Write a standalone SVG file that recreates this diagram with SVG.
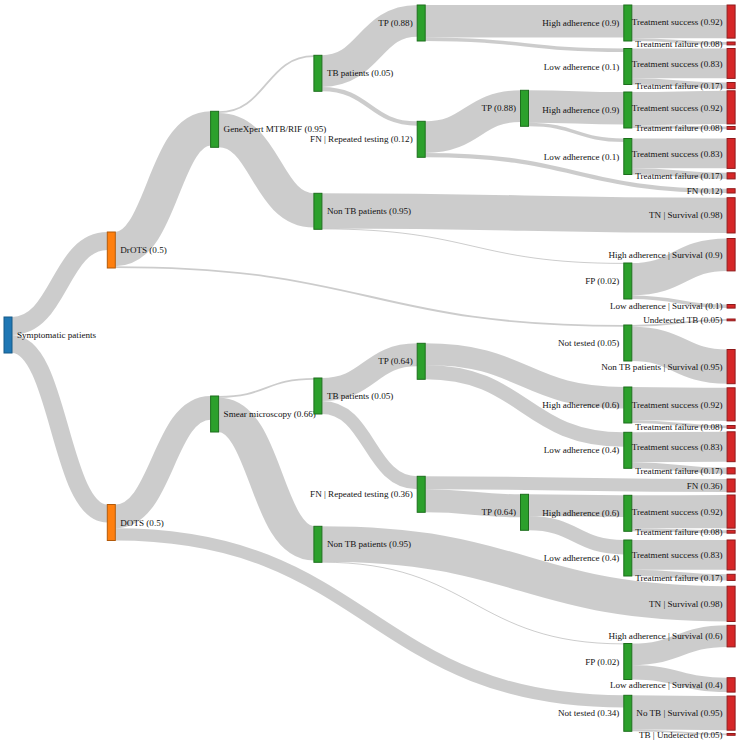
<svg xmlns="http://www.w3.org/2000/svg" width="740" height="741" viewBox="0 0 740 741">
<style>
.links path{fill:none;stroke:#000;stroke-opacity:0.2}
.node rect{stroke-width:1}
.b rect{fill:#1f77b4;stroke:#175a88}
.o rect{fill:#ff7f0e;stroke:#b25a0a}
.g rect{fill:#2ca02c;stroke:#1d6f1d}
.r rect{fill:#d62728;stroke:#8f1a1b}
text{font-family:"Liberation Serif","Times New Roman",serif;font-size:9.1px;fill:#111}
.e{text-anchor:end}
</style>
<rect width="740" height="741" fill="#fff"/>
<g class="links">
<path d="M12,326 C59.65,326 59.65,241 107.3,241" stroke-width="18"/>
<path d="M12,344 C59.65,344 59.65,513.5 107.3,513.5" stroke-width="18"/>
<path d="M115.3,249.1 C162.95,249.1 162.95,128.4 210.6,128.4" stroke-width="34.2"/>
<path d="M115.3,267.1 C369.55,267.1 369.55,325.9 623.8,325.9" stroke-width="1.8"/>
<path d="M115.3,516.4 C162.95,516.4 162.95,407.9 210.6,407.9" stroke-width="23.76"/>
<path d="M115.3,534.4 C369.55,534.4 369.55,701.4 623.8,701.4" stroke-width="12.24"/>
<path d="M218.6,112.2 C266.25,112.2 266.25,56.2 313.9,56.2" stroke-width="1.8"/>
<path d="M218.6,130.2 C266.25,130.2 266.25,210.4 313.9,210.4" stroke-width="34.2"/>
<path d="M218.6,396.9 C266.25,396.9 266.25,378.9 313.9,378.9" stroke-width="1.8"/>
<path d="M218.6,414.9 C266.25,414.9 266.25,543.4 313.9,543.4" stroke-width="34.2"/>
<path d="M321.9,71.1 C369.55,71.1 369.55,20.8 417.2,20.8" stroke-width="31.68"/>
<path d="M321.9,89.1 C369.55,89.1 369.55,123.5 417.2,123.5" stroke-width="4.32"/>
<path d="M321.9,210.9 C524.5,210.9 524.5,215.3 727.1,215.3" stroke-width="35.28"/>
<path d="M321.9,228.9 C472.85,228.9 472.85,263.4 623.8,263.4" stroke-width="1"/>
<path d="M321.9,389.5 C369.55,389.5 369.55,354.8 417.2,354.8" stroke-width="23.04"/>
<path d="M321.9,407.5 C369.55,407.5 369.55,482.8 417.2,482.8" stroke-width="12.96"/>
<path d="M321.9,544 C524.5,544 524.5,603.8 727.1,603.8" stroke-width="35.28"/>
<path d="M321.9,562.2 C472.85,562.2 472.85,643.9 623.8,643.9" stroke-width="1"/>
<path d="M425.2,21.2 C524.5,21.2 524.5,21.2 623.8,21.2" stroke-width="32.4"/>
<path d="M425.2,39.2 C524.5,39.2 524.5,50.3 623.8,50.3" stroke-width="3.6"/>
<path d="M425.2,137.1 C472.85,137.1 472.85,106.1 520.5,106.1" stroke-width="31.68"/>
<path d="M425.2,155.1 C576.15,155.1 576.15,190.9 727.1,190.9" stroke-width="4.32"/>
<path d="M425.2,354.1 C524.5,354.1 524.5,397.8 623.8,397.8" stroke-width="21.6"/>
<path d="M425.2,372.1 C524.5,372.1 524.5,439.5 623.8,439.5" stroke-width="14.4"/>
<path d="M425.2,482.8 C576.15,482.8 576.15,485.5 727.1,485.5" stroke-width="12.96"/>
<path d="M425.2,500.8 C472.85,500.8 472.85,505.8 520.5,505.8" stroke-width="23.04"/>
<path d="M528.5,106.5 C576.15,106.5 576.15,108.2 623.8,108.2" stroke-width="32.4"/>
<path d="M528.5,124.5 C576.15,124.5 576.15,140.3 623.8,140.3" stroke-width="3.6"/>
<path d="M528.5,505.1 C576.15,505.1 576.15,506.1 623.8,506.1" stroke-width="21.6"/>
<path d="M528.5,523.1 C576.15,523.1 576.15,547.2 623.8,547.2" stroke-width="14.4"/>
<path d="M631.8,21.6 C679.45,21.6 679.45,21.6 727.1,21.6" stroke-width="33.12"/>
<path d="M631.8,39.6 C679.45,39.6 679.45,43.4 727.1,43.4" stroke-width="2.88"/>
<path d="M631.8,63.4 C679.45,63.4 679.45,63.4 727.1,63.4" stroke-width="29.88"/>
<path d="M631.8,81.4 C679.45,81.4 679.45,85.6 727.1,85.6" stroke-width="6.12"/>
<path d="M631.8,108.6 C679.45,108.6 679.45,107.4 727.1,107.4" stroke-width="33.12"/>
<path d="M631.8,126.6 C679.45,126.6 679.45,127.9 727.1,127.9" stroke-width="2.88"/>
<path d="M631.8,153.4 C679.45,153.4 679.45,153.4 727.1,153.4" stroke-width="29.88"/>
<path d="M631.8,171.4 C679.45,171.4 679.45,175.9 727.1,175.9" stroke-width="6.12"/>
<path d="M631.8,279.2 C679.45,279.2 679.45,254.7 727.1,254.7" stroke-width="32.4"/>
<path d="M631.8,297.2 C679.45,297.2 679.45,306.3 727.1,306.3" stroke-width="3.6"/>
<path d="M631.8,325.9 C679.45,325.9 679.45,319.9 727.1,319.9" stroke-width="1.8"/>
<path d="M631.8,343.9 C679.45,343.9 679.45,366.6 727.1,366.6" stroke-width="34.2"/>
<path d="M631.8,403.6 C679.45,403.6 679.45,404.4 727.1,404.4" stroke-width="33.12"/>
<path d="M631.8,421.6 C679.45,421.6 679.45,426.9 727.1,426.9" stroke-width="2.88"/>
<path d="M631.8,447.2 C679.45,447.2 679.45,446.7 727.1,446.7" stroke-width="29.88"/>
<path d="M631.8,465.2 C679.45,465.2 679.45,470.9 727.1,470.9" stroke-width="6.12"/>
<path d="M631.8,511.9 C679.45,511.9 679.45,511.6 727.1,511.6" stroke-width="33.12"/>
<path d="M631.8,529.9 C679.45,529.9 679.45,531.7 727.1,531.7" stroke-width="2.88"/>
<path d="M631.8,554.9 C679.45,554.9 679.45,554.9 727.1,554.9" stroke-width="29.88"/>
<path d="M631.8,572.9 C679.45,572.9 679.45,577.4 727.1,577.4" stroke-width="6.12"/>
<path d="M631.8,654.3 C679.45,654.3 679.45,636.1 727.1,636.1" stroke-width="21.6"/>
<path d="M631.8,672.3 C679.45,672.3 679.45,684.9 727.1,684.9" stroke-width="14.4"/>
<path d="M631.8,712.4 C679.45,712.4 679.45,713.1 727.1,713.1" stroke-width="34.2"/>
<path d="M631.8,730.4 C679.45,730.4 679.45,734.4 727.1,734.4" stroke-width="1.8"/>
</g>
<g id="n-symptomatic" class="node b"><rect x="4" y="317" width="8" height="36"/><text x="17" y="335" dy=".35em">Symptomatic patients</text></g>
<g id="n-drots" class="node o"><rect x="107.3" y="232" width="8" height="36"/><text x="120.3" y="250" dy=".35em">DrOTS (0.5)</text></g>
<g id="n-dots" class="node o"><rect x="107.3" y="504.5" width="8" height="36"/><text x="120.3" y="522.5" dy=".35em">DOTS (0.5)</text></g>
<g id="n-genexpert" class="node g"><rect x="210.6" y="111.3" width="8" height="36"/><text x="223.6" y="129.3" dy=".35em">GeneXpert MTB/RIF (0.95)</text></g>
<g id="n-smear" class="node g"><rect x="210.6" y="396" width="8" height="36"/><text x="223.6" y="414" dy=".35em">Smear microscopy (0.66)</text></g>
<g id="n-tb1" class="node g"><rect x="313.9" y="55.3" width="8" height="36"/><text x="326.9" y="73.3" dy=".35em">TB patients (0.05)</text></g>
<g id="n-nontb1" class="node g"><rect x="313.9" y="193.3" width="8" height="36"/><text x="326.9" y="211.3" dy=".35em">Non TB patients (0.95)</text></g>
<g id="n-tb2" class="node g"><rect x="313.9" y="378" width="8" height="36"/><text x="326.9" y="396" dy=".35em">TB patients (0.05)</text></g>
<g id="n-nontb2" class="node g"><rect x="313.9" y="526.3" width="8" height="36"/><text x="326.9" y="544.3" dy=".35em">Non TB patients (0.95)</text></g>
<g id="n-tp1" class="node g"><rect x="417.2" y="5" width="8" height="36"/><text class="e" x="412.7" y="23" dy=".35em">TP (0.88)</text></g>
<g id="n-fnrep1" class="node g"><rect x="417.2" y="121.3" width="8" height="36"/><text class="e" x="412.7" y="139.3" dy=".35em">FN | Repeated testing (0.12)</text></g>
<g id="n-tp3" class="node g"><rect x="417.2" y="343.3" width="8" height="36"/><text class="e" x="412.7" y="361.3" dy=".35em">TP (0.64)</text></g>
<g id="n-fnrep2" class="node g"><rect x="417.2" y="476.3" width="8" height="36"/><text class="e" x="412.7" y="494.3" dy=".35em">FN | Repeated testing (0.36)</text></g>
<g id="n-tp2" class="node g"><rect x="520.5" y="90.3" width="8" height="36"/><text class="e" x="516" y="108.3" dy=".35em">TP (0.88)</text></g>
<g id="n-tp4" class="node g"><rect x="520.5" y="494.3" width="8" height="36"/><text class="e" x="516" y="512.3" dy=".35em">TP (0.64)</text></g>
<g id="n-ha1" class="node g"><rect x="623.8" y="5" width="8" height="36"/><text class="e" x="619.3" y="23" dy=".35em">High adherence (0.9)</text></g>
<g id="n-la1" class="node g"><rect x="623.8" y="48.5" width="8" height="36"/><text class="e" x="619.3" y="66.5" dy=".35em">Low adherence (0.1)</text></g>
<g id="n-ha2" class="node g"><rect x="623.8" y="92" width="8" height="36"/><text class="e" x="619.3" y="110" dy=".35em">High adherence (0.9)</text></g>
<g id="n-la2" class="node g"><rect x="623.8" y="138.5" width="8" height="36"/><text class="e" x="619.3" y="156.5" dy=".35em">Low adherence (0.1)</text></g>
<g id="n-fp1" class="node g"><rect x="623.8" y="263" width="8" height="36"/><text class="e" x="619.3" y="281" dy=".35em">FP (0.02)</text></g>
<g id="n-nt1" class="node g"><rect x="623.8" y="325" width="8" height="36"/><text class="e" x="619.3" y="343" dy=".35em">Not tested (0.05)</text></g>
<g id="n-ha3" class="node g"><rect x="623.8" y="387" width="8" height="36"/><text class="e" x="619.3" y="405" dy=".35em">High adherence (0.6)</text></g>
<g id="n-la3" class="node g"><rect x="623.8" y="432.3" width="8" height="36"/><text class="e" x="619.3" y="450.3" dy=".35em">Low adherence (0.4)</text></g>
<g id="n-ha4" class="node g"><rect x="623.8" y="495.3" width="8" height="36"/><text class="e" x="619.3" y="513.3" dy=".35em">High adherence (0.6)</text></g>
<g id="n-la4" class="node g"><rect x="623.8" y="540" width="8" height="36"/><text class="e" x="619.3" y="558" dy=".35em">Low adherence (0.4)</text></g>
<g id="n-fp2" class="node g"><rect x="623.8" y="643.5" width="8" height="36"/><text class="e" x="619.3" y="661.5" dy=".35em">FP (0.02)</text></g>
<g id="n-nt2" class="node g"><rect x="623.8" y="695.3" width="8" height="36"/><text class="e" x="619.3" y="713.3" dy=".35em">Not tested (0.34)</text></g>
<g id="n-ts1" class="node r"><rect x="727.1" y="5" width="8" height="33.12"/><text class="e" x="722.6" y="21.6" dy=".35em">Treatment success (0.92)</text></g>
<g id="n-tf1" class="node r"><rect x="727.1" y="42" width="8" height="2.88"/><text class="e" x="722.6" y="43.4" dy=".35em">Treatment failure (0.08)</text></g>
<g id="n-ts2" class="node r"><rect x="727.1" y="48.5" width="8" height="29.88"/><text class="e" x="722.6" y="63.4" dy=".35em">Treatment success (0.83)</text></g>
<g id="n-tf2" class="node r"><rect x="727.1" y="82.5" width="8" height="6.12"/><text class="e" x="722.6" y="85.6" dy=".35em">Treatment failure (0.17)</text></g>
<g id="n-ts3" class="node r"><rect x="727.1" y="90.8" width="8" height="33.12"/><text class="e" x="722.6" y="107.4" dy=".35em">Treatment success (0.92)</text></g>
<g id="n-tf3" class="node r"><rect x="727.1" y="126.5" width="8" height="2.88"/><text class="e" x="722.6" y="127.9" dy=".35em">Treatment failure (0.08)</text></g>
<g id="n-ts4" class="node r"><rect x="727.1" y="138.5" width="8" height="29.88"/><text class="e" x="722.6" y="153.4" dy=".35em">Treatment success (0.83)</text></g>
<g id="n-tf4" class="node r"><rect x="727.1" y="172.8" width="8" height="6.12"/><text class="e" x="722.6" y="175.9" dy=".35em">Treatment failure (0.17)</text></g>
<g id="n-fn1" class="node r"><rect x="727.1" y="188.7" width="8" height="4.32"/><text class="e" x="722.6" y="190.9" dy=".35em">FN (0.12)</text></g>
<g id="n-tn1" class="node r"><rect x="727.1" y="197.7" width="8" height="35.28"/><text class="e" x="722.6" y="215.3" dy=".35em">TN | Survival (0.98)</text></g>
<g id="n-has1" class="node r"><rect x="727.1" y="238.5" width="8" height="32.4"/><text class="e" x="722.6" y="254.7" dy=".35em">High adherence | Survival (0.9)</text></g>
<g id="n-las1" class="node r"><rect x="727.1" y="304.5" width="8" height="3.6"/><text class="e" x="722.6" y="306.3" dy=".35em">Low adherence | Survival (0.1)</text></g>
<g id="n-undet" class="node r"><rect x="727.1" y="319" width="8" height="1.8"/><text class="e" x="722.6" y="319.9" dy=".35em">Undetected TB (0.05)</text></g>
<g id="n-nontbs" class="node r"><rect x="727.1" y="349.5" width="8" height="34.2"/><text class="e" x="722.6" y="366.6" dy=".35em">Non TB patients | Survival (0.95)</text></g>
<g id="n-ts5" class="node r"><rect x="727.1" y="387.8" width="8" height="33.12"/><text class="e" x="722.6" y="404.4" dy=".35em">Treatment success (0.92)</text></g>
<g id="n-tf5" class="node r"><rect x="727.1" y="425.5" width="8" height="2.88"/><text class="e" x="722.6" y="426.9" dy=".35em">Treatment failure (0.08)</text></g>
<g id="n-ts6" class="node r"><rect x="727.1" y="431.8" width="8" height="29.88"/><text class="e" x="722.6" y="446.7" dy=".35em">Treatment success (0.83)</text></g>
<g id="n-tf6" class="node r"><rect x="727.1" y="467.8" width="8" height="6.12"/><text class="e" x="722.6" y="470.9" dy=".35em">Treatment failure (0.17)</text></g>
<g id="n-fn2" class="node r"><rect x="727.1" y="479" width="8" height="12.96"/><text class="e" x="722.6" y="485.5" dy=".35em">FN (0.36)</text></g>
<g id="n-ts7" class="node r"><rect x="727.1" y="495" width="8" height="33.12"/><text class="e" x="722.6" y="511.6" dy=".35em">Treatment success (0.92)</text></g>
<g id="n-tf7" class="node r"><rect x="727.1" y="530.3" width="8" height="2.88"/><text class="e" x="722.6" y="531.7" dy=".35em">Treatment failure (0.08)</text></g>
<g id="n-ts8" class="node r"><rect x="727.1" y="540" width="8" height="29.88"/><text class="e" x="722.6" y="554.9" dy=".35em">Treatment success (0.83)</text></g>
<g id="n-tf8" class="node r"><rect x="727.1" y="574.3" width="8" height="6.12"/><text class="e" x="722.6" y="577.4" dy=".35em">Treatment failure (0.17)</text></g>
<g id="n-tn2" class="node r"><rect x="727.1" y="586.2" width="8" height="35.28"/><text class="e" x="722.6" y="603.8" dy=".35em">TN | Survival (0.98)</text></g>
<g id="n-has2" class="node r"><rect x="727.1" y="625.3" width="8" height="21.6"/><text class="e" x="722.6" y="636.1" dy=".35em">High adherence | Survival (0.6)</text></g>
<g id="n-las2" class="node r"><rect x="727.1" y="677.7" width="8" height="14.4"/><text class="e" x="722.6" y="684.9" dy=".35em">Low adherence | Survival (0.4)</text></g>
<g id="n-notbs" class="node r"><rect x="727.1" y="696" width="8" height="34.2"/><text class="e" x="722.6" y="713.1" dy=".35em">No TB | Survival (0.95)</text></g>
<g id="n-tbundet" class="node r"><rect x="727.1" y="733.5" width="8" height="1.8"/><text class="e" x="722.6" y="734.4" dy=".35em">TB | Undetected (0.05)</text></g>
</svg>
